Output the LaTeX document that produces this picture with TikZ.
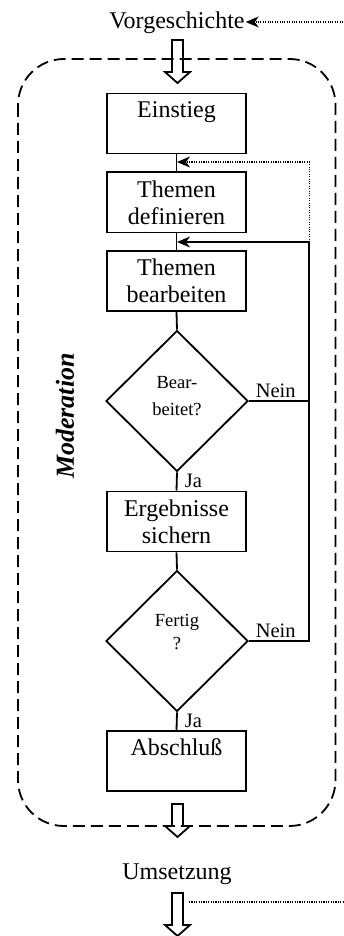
\documentclass[tikz,border=0pt]{standalone}
\usepackage{fontspec}
\setmainfont{Liberation Serif}
\usetikzlibrary{shapes.geometric,arrows.meta,calc}

% hollow block arrow pointing down: centre x, top y, tip y
\newcommand\hollowarrow[3]{%
  \draw[blockarrow] (#1-5.5,#2) -- (#1-5.5,#3-11) -- (#1-12.5,#3-11) -- (#1,#3)
    -- (#1+12.5,#3-11) -- (#1+5.5,#3-11) -- (#1+5.5,#2) -- cycle;}

\begin{document}
\begin{tikzpicture}[x=1pt,y=-1pt,
  line join=miter,
  stepbox/.style={draw, line width=1.8pt, minimum width=139pt, minimum height=60pt,
    align=center, inner sep=2pt, font=\fontsize{24}{27}\selectfont},
  decision/.style={draw, line width=1.8pt, diamond, minimum width=142pt,
    minimum height=141pt, inner sep=0pt},
  dtext/.style={align=center, inner sep=0pt},
  lbl/.style={font=\fontsize{20.5}{24}\selectfont, inner sep=1pt},
  title/.style={font=\fontsize{24}{27}\selectfont, inner sep=1pt},
  flow/.style={line width=1.8pt},
  tip/.style={-{Stealth[length=13pt,width=11pt,inset=4pt]}},
  fbline/.style={line width=1.1pt, dash pattern=on 1.1pt off 1.3pt},
  blockarrow/.style={line width=1.8pt},
  frame/.style={line width=1.8pt, dash pattern=on 12pt off 6pt, rounded corners=46pt}]

\useasboundingbox (0,0) rectangle (343,936);

% surrounding moderation frame
\draw[frame] (18,59) rectangle (335.5,826);
\node[rotate=90, inner sep=0pt, font=\fontsize{26}{30}\selectfont\bfseries\itshape]
  (mod) at (65,416) {Moderation};

% outer phases
\node[title, anchor=base] (vorg) at (177,29) {Vorgeschichte};
\node[title, anchor=base] (ums) at (177,879) {Umsetzung};
\hollowarrow{177.5}{40}{83}
\hollowarrow{177.5}{804}{837}
\hollowarrow{177.5}{893}{936}

% process steps
\node[stepbox] (e)  at (176.5,123.5) {Einstieg\\\mbox{}};
\node[stepbox] (td) at (176.5,202.4) {Themen\\definieren};
\node[stepbox] (tb) at (176.5,281.2) {Themen\\bearbeiten};
\node[decision] (d1) at (177,401) {};
\node[dtext, font=\fontsize{18.5}{27}\selectfont] (d1t) at (177,396) {Bear-\\beitet?};
\node[stepbox] (es) at (176.5,521.4) {Ergebnisse\\sichern};
\node[decision] (d2) at (177,641) {};
\node[dtext, font=\fontsize{18.5}{23}\selectfont] (d2t) at (177,632) {Fertig\\?};
\node[stepbox] (ab) at (176.5,761) {Abschluß\\\mbox{}};

% entry points on the main line and the loop column
\coordinate (inE) at (177,162);
\coordinate (inT) at (177,242);
\coordinate (loop) at (309.3,0);
\coordinate (fbtop) at (343,22);
\coordinate (fbbot) at (343,902);
\coordinate (fbbotend) at (189,902);

% main sequence
\draw[flow] (e.south) -- (td.north);
\draw[flow] (td.south) -- (tb.north);
\draw[flow] (tb.south) -- (d1.north);
\draw[flow] (d1.south) -- node[lbl, anchor=north west, pos=0, xshift=6pt] {Ja} (es.north);
\draw[flow] (es.south) -- (d2.north);
\draw[flow] (d2.south) -- node[lbl, anchor=north west, pos=0, xshift=6pt] {Ja} (ab.north);

% loops back
\draw[flow] (d1.east) -- node[lbl, anchor=south west, pos=0, xshift=5pt, yshift=1.5pt] {Nein} (d1.east -| loop);
\draw[flow, tip] (d2.east) -- node[lbl, anchor=south west, pos=0, xshift=5pt, yshift=1pt] {Nein}
  (d2.east -| loop) -- (inT -| loop) -- (inT);
\draw[fbline, tip] (inT -| loop) -- (inE -| loop) -- (inE);

% feedback from outside
\draw[fbline, tip] (fbtop) -- (vorg.east |- fbtop);
\draw[fbline] (fbbotend) -- (fbbot);
\end{tikzpicture}
\end{document}
